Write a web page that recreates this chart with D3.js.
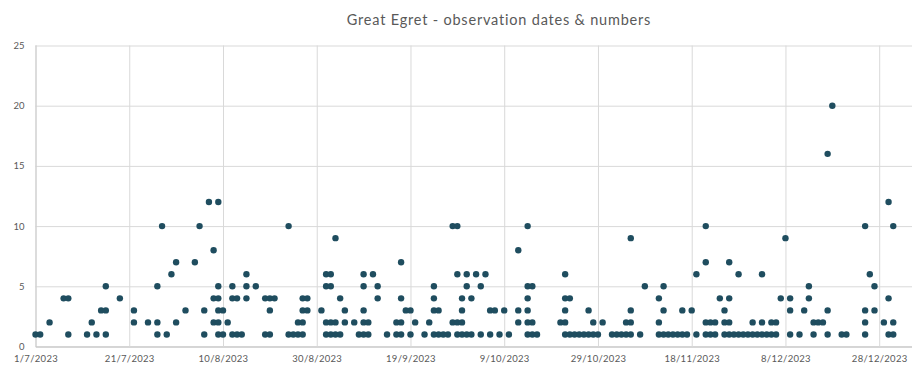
<!DOCTYPE html>
<html>
<head>
<meta charset="utf-8">
<script src="https://cdn.jsdelivr.net/npm/d3@7"></script>
<style>
  html, body { margin: 0; padding: 0; background: #ffffff; }
  svg { display: block; }
</style>
</head>
<body>
<svg id="chart" width="912" height="369"></svg>
<script>
// ---- data ----
const chartTitle = "Great Egret - observation dates & numbers";
// observation day offsets counted from 1 July 2023
const obsDay = [
  0, 1, 3, 6, 7, 7, 11, 12, 13, 14, 15, 15, 15, 18, 21, 21, 24,
  26, 26, 26, 27, 28, 29, 30, 30, 32, 34, 35, 36, 36, 37,
  38, 38, 38, 39, 39, 39, 39, 39, 39, 40, 40, 41, 42, 42, 42, 43, 43, 44,
  45, 45, 45, 47, 49, 49, 50, 50, 50, 51, 54, 54, 55, 56, 56,
  57, 57, 57, 57, 58, 58, 61, 62, 62, 62, 62, 63, 63, 63, 63, 64, 64, 64,
  65, 65, 66, 66, 68, 69, 70, 70, 70, 70, 70, 71, 71, 72, 73, 73, 75,
  77, 77, 78, 78, 78, 78, 79, 80, 80, 81, 83, 84, 85, 85, 85, 85, 86, 86,
  87, 88, 89, 89, 90, 90, 90, 90, 91, 91, 91, 91, 92, 92, 92, 93, 93, 94,
  95, 95, 96, 97, 97, 98, 99, 100, 101, 103, 103, 103,
  105, 105, 105, 105, 105, 105, 106, 106, 106, 107, 112,
  113, 113, 113, 113, 113, 114, 114, 115, 116, 117, 118, 118, 119, 119, 120, 121,
  123, 124, 125, 126, 126, 127, 127, 127, 127, 129, 130, 133, 133, 133,
  134, 134, 134, 135, 136, 137, 138, 138, 139, 140, 141, 141,
  143, 143, 143, 143, 144, 144, 145, 145, 146, 147, 147, 147,
  148, 148, 148, 148, 149, 150, 150, 151, 152, 153, 153, 154, 155, 155, 155,
  156, 157, 157, 158, 158, 159, 160, 161, 161, 161, 163, 164, 165, 165,
  166, 166, 167, 168, 169, 169, 169, 170, 172, 173,
  177, 177, 177, 177, 178, 179, 179, 181, 182, 182, 182, 183, 183, 183
];
const obsCount = [
  1, 1, 2, 4, 4, 1, 1, 2, 1, 3, 1, 3, 5, 4, 2, 3, 2,
  5, 2, 1, 10, 1, 6, 7, 2, 3, 7, 10, 3, 1, 12,
  8, 4, 2, 12, 5, 4, 3, 2, 1, 3, 1, 2, 5, 4, 1, 4, 1, 1,
  6, 5, 4, 5, 4, 1, 4, 3, 1, 4, 10, 1, 1, 2, 1,
  4, 3, 2, 1, 4, 3, 3, 6, 5, 2, 1, 6, 5, 2, 1, 9, 2, 1,
  4, 1, 3, 2, 2, 1, 6, 5, 3, 2, 1, 2, 1, 6, 5, 4, 1,
  2, 1, 7, 4, 2, 1, 3, 3, 1, 2, 1, 2, 5, 4, 3, 1, 3, 1,
  1, 1, 10, 2, 10, 6, 2, 1, 4, 3, 2, 1, 6, 5, 1, 4, 1, 6,
  5, 1, 6, 3, 1, 3, 1, 3, 1, 8, 3, 2,
  10, 5, 4, 3, 2, 1, 5, 2, 1, 1, 2,
  6, 4, 3, 2, 1, 4, 1, 1, 1, 1, 3, 1, 2, 1, 1, 2,
  1, 1, 1, 2, 1, 9, 3, 2, 1, 1, 5, 4, 2, 1,
  5, 3, 1, 1, 1, 1, 3, 1, 1, 3, 6, 1,
  10, 7, 2, 1, 2, 1, 2, 1, 4, 3, 2, 1,
  7, 4, 2, 1, 1, 6, 1, 1, 1, 2, 1, 1, 6, 2, 1,
  1, 2, 1, 2, 1, 4, 9, 4, 3, 1, 1, 3, 5, 4,
  2, 1, 2, 2, 16, 3, 1, 20, 1, 1,
  10, 3, 2, 1, 6, 5, 3, 2, 12, 4, 1, 10, 2, 1
];
const xTickOffsets = [0, 20, 40, 60, 80, 100, 120, 140, 160, 180];
const yTicks = [0, 5, 10, 15, 20, 25];

// ---- layout ----
const startDate = new Date(2023, 6, 1);
const addDays = (d, n) => new Date(d.getFullYear(), d.getMonth(), d.getDate() + n);
const points = obsDay.map((d, i) => ({ date: addDays(startDate, d), value: obsCount[i] }));

const plotLeft = 35.5, plotRight = 912, plotTop = 45.5, plotBottom = 346.5;
const pxPerDay = (876.5 - 35.5) / 180;
const endDate = addDays(startDate, (plotRight - plotLeft) / pxPerDay);

const x = d3.scaleTime().domain([startDate, endDate]).range([plotLeft, plotRight]);
const y = d3.scaleLinear().domain([0, 25]).range([plotBottom, plotTop]);

const svg = d3.select("#chart");
const font = "Lato, 'Open Sans', sans-serif";
const textColor = "#595959";
const gridColor = "#d9d9d9";

// title
svg.append("text")
  .attr("x", 499).attr("y", 25)
  .attr("text-anchor", "middle")
  .attr("font-family", font).attr("font-size", 14.5)
  .attr("letter-spacing", 0.8)
  .attr("fill", textColor)
  .text(chartTitle);

// horizontal gridlines + y axis labels
const yAxis = d3.axisLeft(y).tickValues(yTicks).tickSize(-(plotRight - plotLeft)).tickPadding(11);
const gy = svg.append("g").attr("transform", `translate(${plotLeft},0)`).call(yAxis);
gy.select(".domain").remove();
gy.selectAll(".tick line").attr("stroke", gridColor).attr("stroke-width", 1);
gy.selectAll(".tick text").attr("font-family", font).attr("font-size", 9.5).attr("fill", textColor);

// vertical gridlines + x axis labels
const xTickDates = xTickOffsets.map(o => addDays(startDate, o));
const fmt = d => `${d.getDate()}/${d.getMonth() + 1}/${d.getFullYear()}`;
const xAxis = d3.axisBottom(x).tickValues(xTickDates).tickFormat(fmt)
  .tickSize(-(plotBottom - plotTop)).tickPadding(9);
const gx = svg.append("g").attr("transform", `translate(0,${plotBottom})`).call(xAxis);
gx.select(".domain").attr("stroke", "#bfbfbf");
gx.selectAll(".tick line").attr("stroke", gridColor).attr("stroke-width", 1);
gx.selectAll(".tick text").attr("font-family", font).attr("font-size", 9.5)
  .attr("letter-spacing", 0.3).attr("fill", textColor);

// points
svg.append("g").selectAll("circle")
  .data(points)
  .join("circle")
  .attr("cx", d => x(d.date))
  .attr("cy", d => y(d.value))
  .attr("r", 3.2)
  .attr("fill", "#1f4d5f");
</script>
</body>
</html>
